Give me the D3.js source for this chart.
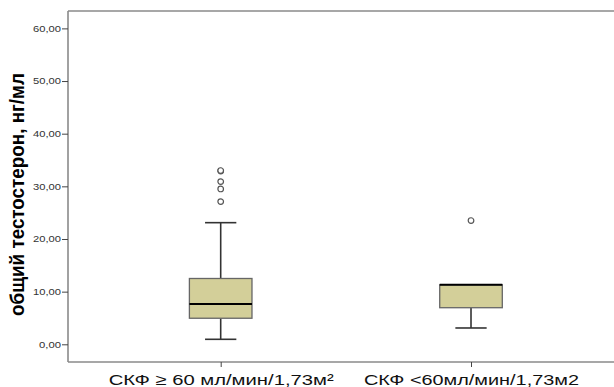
<!DOCTYPE html>
<html>
<head>
<meta charset="utf-8">
<script src="https://cdn.jsdelivr.net/npm/d3@7"></script>
<style>
  html, body { margin: 0; padding: 0; background: #fff; }
  svg { display: block; font-family: Arial, "Liberation Sans", sans-serif; }
</style>
</head>
<body>
<svg id="chart" width="614" height="387"></svg>
<script>
// Groups by eGFR and box-plot summary of total testosterone (ng/ml)
const categories = ["СКФ ≥ 60 мл/мин/1,73м²", "СКФ <60мл/мин/1,73м2"];
const whiskerLow  = [0.95, 3.1];
const q1          = [4.95, 6.95];
const median      = [7.65, 11.3];
const q3          = [12.5, 11.3];
const whiskerHigh = [23.1, 11.3];
const outliers    = [[27.1, 29.5, 30.9, 32.9, 33.0], [23.5]];
const yTicks      = [0, 10, 20, 30, 40, 50, 60];
const yTitle      = "общий тестостерон, нг/мл";

const svg = d3.select("#chart");
const plotLeft = 68, plotRight = 623.7, plotTop = 11, plotBottom = 362;

const x = d3.scalePoint().domain(categories).range([plotLeft, plotRight]).padding(0.61);
const y = d3.scaleLinear().domain([-3.36, 63.3]).range([plotBottom, plotTop]);
const step = x.step();
const boxW = step * 0.25, capW = step * 0.125;

// Frame
const frame = svg.append("g").attr("stroke", "#8a8a8a").attr("stroke-width", 1.6).attr("fill", "none");
frame.append("line").attr("x1", plotLeft).attr("x2", 614).attr("y1", plotTop).attr("y2", plotTop);
frame.append("line").attr("x1", plotLeft).attr("x2", 614).attr("y1", plotBottom).attr("y2", plotBottom);
frame.append("line").attr("x1", plotLeft).attr("x2", plotLeft).attr("y1", plotTop).attr("y2", plotBottom);

// Y axis
const yAxis = svg.append("g")
  .attr("transform", `translate(${plotLeft},0)`)
  .call(d3.axisLeft(y).tickValues(yTicks).tickSize(6).tickPadding(1)
        .tickFormat(d => d3.format(".2f")(d).replace(".", ",")));
yAxis.select(".domain").remove();
yAxis.selectAll(".tick line").attr("stroke", "#444");
yAxis.selectAll(".tick text")
  .attr("fill", "#333").attr("font-size", 8.6).attr("font-family", "Arial, 'Liberation Sans', sans-serif")
  .attr("textLength", d => d === 0 ? 22 : 28).attr("lengthAdjust", "spacingAndGlyphs");

// X axis
const xAxis = svg.append("g")
  .attr("transform", `translate(0,${plotBottom})`)
  .call(d3.axisBottom(x).tickSize(5).tickPadding(6.5));
xAxis.select(".domain").remove();
xAxis.selectAll(".tick line").attr("stroke", "#444");
xAxis.selectAll(".tick text")
  .attr("fill", "#111").attr("font-size", 15.5).attr("font-family", "Arial, 'Liberation Sans', sans-serif")
  .attr("textLength", (d, i) => i === 0 ? 225 : 215).attr("lengthAdjust", "spacingAndGlyphs");

// Y title
svg.append("text")
  .attr("transform", `translate(24,194.5) rotate(-90)`)
  .attr("text-anchor", "middle")
  .attr("font-size", 20).attr("font-weight", "bold").attr("fill", "#000")
  .attr("textLength", 243).attr("lengthAdjust", "spacingAndGlyphs")
  .text(yTitle);

// Boxes
const boxes = svg.append("g").selectAll("g").data(categories).join("g")
  .attr("transform", d => `translate(${x(d)},0)`);

boxes.append("line")
  .attr("x1", 0).attr("x2", 0)
  .attr("y1", (d, i) => y(whiskerLow[i])).attr("y2", (d, i) => y(q1[i]))
  .attr("stroke", "#333").attr("stroke-width", 1.6);
boxes.append("line")
  .attr("x1", 0).attr("x2", 0)
  .attr("y1", (d, i) => y(q3[i])).attr("y2", (d, i) => y(whiskerHigh[i]))
  .attr("stroke", "#333").attr("stroke-width", 1.6);
boxes.append("line")
  .attr("x1", -capW / 2).attr("x2", capW / 2)
  .attr("y1", (d, i) => y(whiskerLow[i])).attr("y2", (d, i) => y(whiskerLow[i]))
  .attr("stroke", "#333").attr("stroke-width", 1.6);
boxes.filter((d, i) => whiskerHigh[i] > q3[i]).append("line")
  .attr("x1", -capW / 2).attr("x2", capW / 2)
  .attr("y1", d => y(whiskerHigh[categories.indexOf(d)]))
  .attr("y2", d => y(whiskerHigh[categories.indexOf(d)]))
  .attr("stroke", "#333").attr("stroke-width", 1.6);

boxes.append("rect")
  .attr("x", -boxW / 2).attr("width", boxW)
  .attr("y", (d, i) => y(q3[i])).attr("height", (d, i) => y(q1[i]) - y(q3[i]))
  .attr("fill", "#d3cf99").attr("stroke", "#666").attr("stroke-width", 1.3);

boxes.append("line")
  .attr("x1", -boxW / 2).attr("x2", boxW / 2)
  .attr("y1", (d, i) => y(median[i])).attr("y2", (d, i) => y(median[i]))
  .attr("stroke", "#000").attr("stroke-width", 2);

boxes.each(function (d, i) {
  d3.select(this).selectAll("circle").data(outliers[i]).join("circle")
    .attr("cx", 0).attr("cy", v => y(v)).attr("r", 2.8)
    .attr("fill", "#fff").attr("stroke", "#555").attr("stroke-width", 1.2);
});
</script>
</body>
</html>
